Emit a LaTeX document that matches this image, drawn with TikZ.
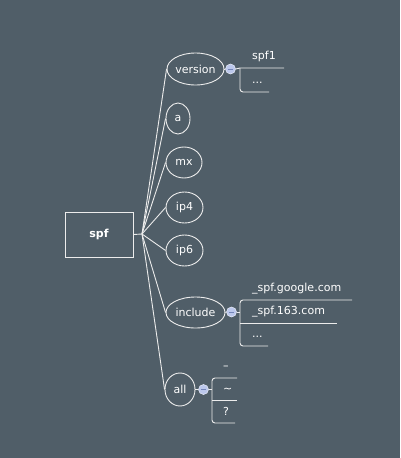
\documentclass[tikz,border=0pt]{standalone}
\usepackage{fontspec}
\setmainfont{DejaVu Sans}
\usetikzlibrary{shapes.geometric}
\definecolor{bg}{HTML}{505E68}
\definecolor{ln}{HTML}{ECECEC}
\definecolor{knob}{HTML}{BCC8EC}
\definecolor{knobm}{HTML}{7384B8}
\begin{document}
\begin{tikzpicture}[x=1pt,y=-1pt,
  font=\fontsize{11}{13}\selectfont, text=white,
  topic/.style={ellipse, draw=ln, line width=0.9pt, inner sep=0pt, minimum height=31pt},
  link/.style={draw=ln, line width=0.9pt},
  bracket/.style={draw=ln, line width=0.9pt, rounded corners=3pt},
  leaf/.style={anchor=base west, inner sep=0pt},
  knobst/.style={circle, fill=knob, draw=white!70!knob, line width=0.5pt, minimum size=10pt, inner sep=0pt},
  minus/.style={draw=knobm, line width=0.9pt}]
\fill[bg] (0,0) rectangle (400,458);
\useasboundingbox (0,0) rectangle (400,458);

% root
\node[draw=ln, line width=0.9pt, minimum width=68pt, minimum height=45pt, inner sep=0pt,
      font=\bfseries\fontsize{11}{13}\selectfont] (spf) at (99,234.5) {spf};
\coordinate (hub) at (142,234);
\draw[link] (spf.east) -- (hub);

% topics
\node[topic, minimum width=57pt, minimum height=32pt] (ver) at (195.5,69) {version};
\node[topic, minimum width=24pt] (a) at (178,118.5) {a};
\node[topic, minimum width=36pt] (mx) at (184,162.5) {mx};
\node[topic, minimum width=37pt] (ip4) at (184.5,207.5) {ip4};
\node[topic, minimum width=37pt] (ip6) at (184.5,250.5) {ip6};
\node[topic, minimum width=59pt] (inc) at (195.5,312.5) {include};
\node[topic, minimum width=30pt, minimum height=33pt] (all) at (180,389.5) {all};

\foreach \n in {ver,a,mx,ip4,ip6,inc,all} \draw[link] (hub) -- (\n.west);

% version children
\node[knobst] (kv) at (230.5,69) {};
\draw[minus] ([xshift=-2.5pt]kv.center) -- ([xshift=2.5pt]kv.center);
\draw[link] (ver.east) -- (kv.west);
\coordinate (v1) at (284,68);
\coordinate (vt) at (240,68);
\coordinate (vb) at (240,92);
\coordinate (v2) at (269,92);
\draw[link] (kv.east) -- (vt) -- (v1);
\draw[bracket] (vt) -- (vb) -- (v2);
\node[leaf] (spf1) at (252,59.5) {spf1};
\node[leaf] (vdots) at (252,83.5) {...};

% include children
\node[knobst] (ki) at (231.5,312) {};
\draw[minus] ([xshift=-2.5pt]ki.center) -- ([xshift=2.5pt]ki.center);
\draw[link] (inc.east) -- (ki.west);
\coordinate (im) at (240,312);
\coordinate (i1) at (352,300);
\coordinate (i2s) at (240,323);
\coordinate (i2) at (337,323);
\coordinate (i3) at (268,346);
\draw[link] (ki.east) -- (im);
\draw[bracket] (i1) -- (240,300) -- (240,346) -- (i3);
\draw[link] (i2s) -- (i2);
\node[leaf] (goo) at (252,291) {\_spf.google.com};
\node[leaf] (s163) at (252,314.5) {\_spf.163.com};
\node[leaf] (idots) at (252,337.5) {...};

% all children
\node[knobst] (ka) at (203.5,389.5) {};
\draw[minus] ([xshift=-2.5pt]ka.center) -- ([xshift=2.5pt]ka.center);
\draw[link] (all.east) -- (ka.west);
\coordinate (am) at (212,389.5);
\coordinate (a1) at (237,378);
\coordinate (a2s) at (212,400);
\coordinate (a2) at (237,400);
\coordinate (a3) at (235,423);
\draw[link] (ka.east) -- (am);
\draw[bracket] (a1) -- (212,378) -- (212,423) -- (a3);
\draw[link] (a2s) -- (a2);
\node[leaf] (minusq) at (223,369.5) {–};
\node[leaf] (tilde) at (223,392.5) {\char`\~};
\node[leaf] (quest) at (223,415.5) {?};
\end{tikzpicture}
\end{document}
